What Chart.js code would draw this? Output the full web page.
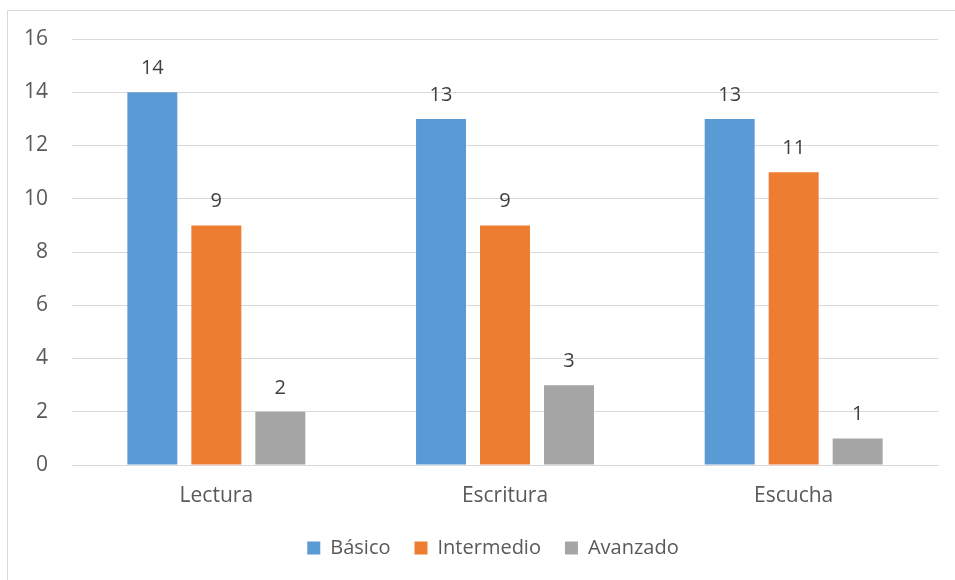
<!DOCTYPE html>
<html>
<head>
<meta charset="utf-8">
<script src="https://cdn.jsdelivr.net/npm/chart.js@4/dist/chart.umd.min.js"></script>
<style>
  html, body { margin: 0; padding: 0; background: #fff; }
  canvas { display: block; }
</style>
</head>
<body>
<canvas id="chart" width="955" height="580"></canvas>
<script>
const categories = ['Lectura', 'Escritura', 'Escucha'];
const basico = [14, 13, 13];
const intermedio = [9, 9, 11];
const avanzado = [2, 3, 1];
const seriesNames = ['Básico', 'Intermedio', 'Avanzado'];
const seriesColors = ['#5B9BD5', '#ED7D31', '#A5A5A5'];

const FONT = '"Open Sans", sans-serif';

// outer frame like the office chart area
const framePlugin = {
    id: 'frame',
    beforeDraw(chart) {
        const ctx = chart.ctx;
        ctx.save();
        ctx.fillStyle = '#fff';
        ctx.fillRect(0, 0, chart.width, chart.height);
        ctx.strokeStyle = '#d9d9d9';
        ctx.lineWidth = 1;
        ctx.strokeRect(7.5, 10.5, chart.width + 10, chart.height + 10);
        ctx.restore();
    }
};

// legend in the original is centred under the plot area, not the canvas
const legendShift = {
    id: 'legendShift',
    afterLayout(chart) {
        const lg = chart.legend;
        if (!lg) return;
        const dx = (chart.chartArea.left + chart.chartArea.right) / 2 - (lg.left + lg.right) / 2 - 12;
        lg.left += dx;
        lg.right += dx;
    }
};

// value labels above each bar
const valueLabels = {
    id: 'valueLabels',
    afterDatasetsDraw(chart) {
        const ctx = chart.ctx;
        ctx.save();
        ctx.font = '20px ' + FONT;
        ctx.fillStyle = '#404040';
        ctx.textAlign = 'center';
        ctx.textBaseline = 'alphabetic';
        chart.data.datasets.forEach((ds, i) => {
            chart.getDatasetMeta(i).data.forEach((bar, j) => {
                ctx.fillText(String(ds.data[j]), bar.x, bar.y - 18);
            });
        });
        ctx.restore();
    }
};

const ctx = document.getElementById('chart').getContext('2d');
const chart = new Chart(ctx, {
    type: 'bar',
    data: {
        labels: categories,
        datasets: [basico, intermedio, avanzado].map((vals, i) => ({
            label: seriesNames[i],
            data: vals,
            backgroundColor: seriesColors[i],
            categoryPercentage: 0.665,
            barPercentage: 0.781,
        })),
    },
    options: {
        responsive: false,
        animation: false,
        layout: {
            padding: { left: 0, right: 17, top: 39, bottom: 12 }
        },
        plugins: {
            legend: {
                position: 'bottom',
                labels: {
                    boxWidth: 13,
                    boxHeight: 13,
                    padding: 24,
                    color: '#595959',
                    font: { family: FONT, size: 20 },
                },
            },
            tooltip: { enabled: false },
        },
        scales: {
            x: {
                grid: { display: false, drawTicks: false },
                border: { display: true, color: '#d9d9d9' },
                ticks: {
                    color: '#595959',
                    font: { family: FONT, size: 21 },
                    padding: 18,
                },
                afterFit(scale) { scale.height = 49; },
            },
            y: {
                min: 0,
                max: 16,
                ticks: {
                    stepSize: 2,
                    color: '#595959',
                    font: { family: FONT, size: 21 },
                    padding: 24,
                },
                grid: { color: '#d9d9d9', drawTicks: false },
                border: { display: false },
                afterFit(scale) { scale.width = 72; },
            },
        },
    },
    plugins: [framePlugin, legendShift, valueLabels],
});
</script>
</body>
</html>
